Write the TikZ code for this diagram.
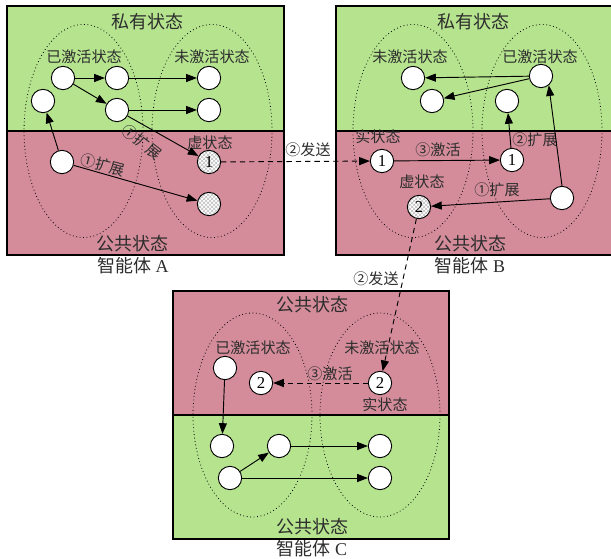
\documentclass[tikz,border=0pt]{standalone}
\usepackage{fontspec}
\setmainfont{Liberation Serif}
\newfontfamily\cjk{Noto Sans CJK SC}
\usetikzlibrary{arrows.meta,patterns}
\definecolor{privc}{RGB}{181,227,142}
\definecolor{pubc}{RGB}{212,140,154}
\definecolor{txtc}{RGB}{45,45,45}
\tikzset{
  st/.style={circle,draw,fill=white,minimum size=17.5pt,inner sep=0pt,line width=0.7pt,font=\fontsize{12.5}{13}\selectfont},
  virt/.style={circle,draw,preaction={fill=white},pattern=crosshatch,pattern color=gray!50,minimum size=17.5pt,inner sep=0pt,line width=0.7pt,font=\fontsize{12.5}{13}\selectfont},
  arr/.style={-{Triangle[length=8pt,width=6pt]},line width=0.7pt},
  darr/.style={arr,dash pattern=on 4pt off 3pt},
  lbl/.style={font=\cjk\fontsize{11.3}{12}\selectfont,text=txtc,inner sep=0pt},
  big/.style={font=\cjk\fontsize{13.5}{14}\selectfont,text=txtc,inner sep=0pt},
  ell/.style={dotted,line width=0.6pt},
  boxline/.style={line width=1pt}
}
\begin{document}
\begin{tikzpicture}[x=0.75pt,y=-0.75pt]
\useasboundingbox (0,0) rectangle (611,559);
\clip (0,0) rectangle (611,559);
% ---------- boxes (fills)
\fill[privc] (7,6) rectangle (284,131);
\fill[pubc] (7,131) rectangle (284,255);
\fill[privc] (336,6) rectangle (615,131);
\fill[pubc] (336,131) rectangle (615,255);
\fill[pubc] (173,291) rectangle (449,415);
\fill[privc] (173,415) rectangle (449,539);
% ---------- ellipses
\draw[ell] (83.5,131) ellipse [x radius=44.6pt, y radius=79.9pt];
\draw[ell] (212,131) ellipse [x radius=45pt, y radius=79.9pt];
\draw[ell] (413,131) ellipse [x radius=45pt, y radius=79.9pt];
\draw[ell] (542,131) ellipse [x radius=45pt, y radius=79.9pt];
\draw[ell] (252.5,415) ellipse [x radius=44.6pt, y radius=76.5pt];
\draw[ell] (380,415) ellipse [x radius=45pt, y radius=76.5pt];
% ---------- box borders
\draw[boxline] (7,6) rectangle (284,255);
\draw[boxline] (7,131) -- (284,131);
\draw[boxline] (336,6) rectangle (615,255);
\draw[boxline] (336,131) -- (615,131);
\draw[boxline] (173,291) rectangle (449,539);
\draw[boxline] (173,415) -- (449,415);
% ---------- texts A
\node[big] (tA1) at (147,22) {私有状态};
\node[big] (tA2) at (132,244) {公共状态};
\node[big] (tA3) at (133,266) {智能体 \rmfamily A};
\node[lbl] (tA4) at (84,57) {已激活状态};
\node[lbl] (tA5) at (212,57) {未激活状态};
\node[lbl] (tA6) at (210,143) {虚状态};
\node[lbl,rotate=-38] (tA7) at (142,142) {①扩展};
\node[lbl,rotate=-15] (tA8) at (103,165) {①扩展};
% ---------- texts B
\node[big] (tB1) at (473,22) {私有状态};
\node[big] (tB2) at (470,244) {公共状态};
\node[big] (tB3) at (470,266) {智能体 \rmfamily B};
\node[lbl] (tB4) at (410,57) {未激活状态};
\node[lbl] (tB5) at (540,57) {已激活状态};
\node[lbl] (tB6) at (378,137) {实状态};
\node[lbl] (tB7) at (438,150) {③激活};
\node[lbl] (tB8) at (535,140) {②扩展};
\node[lbl] (tB9) at (422,182) {虚状态};
\node[lbl] (tB10) at (497,190) {①扩展};
\node[lbl] (tS1) at (308,150) {②发送};
\node[lbl] (tS2) at (376,279) {②发送};
% ---------- texts C
\node[big] (tC1) at (312,305) {公共状态};
\node[big] (tC2) at (312,527) {公共状态};
\node[big] (tC3) at (312,549) {智能体 \rmfamily C};
\node[lbl] (tC4) at (253,348) {已激活状态};
\node[lbl] (tC5) at (382,348) {未激活状态};
\node[lbl] (tC6) at (330,374) {③激活};
\node[lbl] (tC7) at (385,405) {实状态};
% ---------- nodes A
\node[st] (a1) at (63,78) {};
\node[st] (a2) at (117,78) {};
\node[st] (a3) at (43,101) {};
\node[st] (a4) at (117,110) {};
\node[st] (a5) at (209,78) {};
\node[st] (a6) at (209,110) {};
\node[st] (a7) at (62,162) {};
\node[virt] (av1) at (209,162) {1};
\node[virt] (av2) at (209,204) {};
% ---------- nodes B
\node[st] (b1) at (413,78) {};
\node[st] (b2) at (432,101) {};
\node[st] (b3) at (507,101) {};
\node[st] (b4) at (541,76) {};
\node[st] (br1) at (382,161) {1};
\node[st] (br2) at (512,160) {1};
\node[virt] (bv2) at (419,207) {2};
\node[st] (b5) at (562,198) {};
% ---------- nodes C
\node[st] (c1) at (225,368) {};
\node[st] (c2) at (261,383) {2};
\node[st] (c3) at (380,383) {2};
\node[st] (c4) at (222,446) {};
\node[st] (c5) at (279,446) {};
\node[st] (c6) at (380,446) {};
\node[st] (c7) at (230,478) {};
\node[st] (c8) at (380,478) {};
% ---------- arrows A
\draw[arr] (a1) -- (a2);
\draw[arr] (a1) -- (a4);
\draw[arr] (a2) -- (a5);
\draw[arr] (a4) -- (a6);
\draw[arr] (a4) -- (av1);
\draw[arr] (a7) -- (a3);
\draw[arr] (a7) -- (av2);
% ---------- arrows B
\draw[arr] (b4) -- (b1);
\draw[arr] (b4) -- (b2);
\draw[arr] (br2) -- (b3);
\draw[arr] (b5.north) -- (b4.-50);
\draw[arr] (br1) -- (br2);
\draw[arr] (b5) -- (bv2);
% ---------- arrows C
\draw[arr] (c1) -- (c4);
\draw[arr] (c7) -- (c5);
\draw[arr] (c5) -- (c6);
\draw[arr] (c7) -- (c8);
\draw[darr] (c3) -- (c2);
% ---------- send arrows
\draw[darr] (av1) -- (br1);
\draw[darr] (bv2) -- (c3);
\end{tikzpicture}
\end{document}
